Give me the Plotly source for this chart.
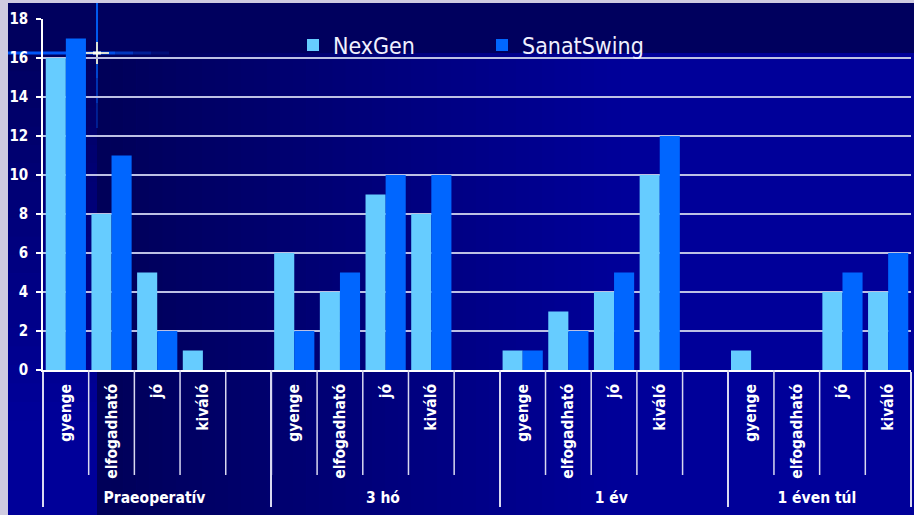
import plotly.graph_objects as go

# ---------------- data ----------------
groups = ["Praeoperatív", "3 hó", "1 év", "1 éven túl"]
ratings = ["gyenge", "elfogadható", "jó", "kiváló"]
nexgen = [[16, 8, 5, 1], [6, 4, 9, 8], [1, 3, 4, 10], [1, 0, 4, 4]]
sanatswing = [[17, 11, 2, 0], [2, 5, 10, 10], [1, 2, 5, 12], [0, 0, 5, 6]]
y_ticks = [0, 2, 4, 6, 8, 10, 12, 14, 16, 18]

# ---------------- layout constants ----------------
W, H = 914, 515
ML, MR, MT, MB = 43, 3, 19, 145
PW, PH = W - ML - MR, H - MT - MB
FONT = "DejaVu Sans Condensed, DejaVu Sans"


def px(x):
    return (x - ML) / PW


def py(y):
    return (H - MB - y) / PH


# build multicategory x (empty spacer slot after each group except last)
xg, xs, yn, ys = [], [], [], []
for gi, g in enumerate(groups):
    for ri, r in enumerate(ratings):
        xg.append(g); xs.append(r)
        yn.append(nexgen[gi][ri]); ys.append(sanatswing[gi][ri])
    if gi < len(groups) - 1:
        xg.append(g); xs.append(" ")
        yn.append(None); ys.append(None)
nslots = len(xg)

fig = go.Figure()
fig.add_bar(x=[xg, xs], y=yn, name="NexGen", marker=dict(color="#66CCFF", line=dict(width=0)))
fig.add_bar(x=[xg, xs], y=ys, name="SanatSwing", marker=dict(color="#0066FF", line=dict(width=0)))

shapes = []


def rect(x0, y0, x1, y1, color):
    shapes.append(dict(type="rect", xref="paper", yref="paper", layer="below",
                       x0=px(x0), x1=px(x1), y0=py(y1), y1=py(y0),
                       fillcolor=color, line=dict(width=0)))


def lerp_col(a, b, t):
    t = max(0.0, min(1.0, t))
    return "rgb(0,0,%d)" % round(a + (b - a) * t)


# base background
rect(8, 3, W + 2, H + 2, "#000099")
# main region horizontal gradient
n = 40
x_start, x_end = 97, 620
for i in range(n):
    xa = x_start + (x_end - x_start) * i / n
    xb = x_start + (x_end - x_start) * (i + 1) / n + 0.6
    rect(xa, 53, xb, H + 2, lerp_col(88, 153, (i + 0.5) / n))
# left strip vertical gradient
m = 20
for i in range(m):
    ya = 53 + (420 - 53) * i / m
    yb = 53 + (420 - 53) * (i + 1) / m + 0.6
    rect(8, ya, 97, yb, lerp_col(96, 153, (i + 0.5) / m))
# top band
rect(8, 3, W + 2, 53, "#00005E")


# glow lines / star
def seg(x0, y0, x1, y1, color, w):
    shapes.append(dict(type="line", xref="paper", yref="paper", layer="below",
                       x0=px(x0), x1=px(x1), y0=py(y0), y1=py(y1),
                       line=dict(color=color, width=w)))


seg(8, 53, 97, 53, "rgba(0,90,255,0.95)", 3)
for k, a in enumerate([0.85, 0.6, 0.35, 0.15]):
    seg(97 + k * 18, 53, 97 + (k + 1) * 18, 53, "rgba(0,90,255,%.2f)" % a, 3)
for k, a in enumerate([0.9, 0.9, 0.7, 0.5, 0.3]):
    seg(97, 3 + k * 25, 97, 3 + (k + 1) * 25, "rgba(0,100,255,%.2f)" % a, 2)
seg(85, 53, 109, 53, "rgba(255,250,210,0.85)", 2)
seg(97, 42, 97, 64, "rgba(255,250,210,0.85)", 2)
seg(93, 53, 101, 53, "rgba(255,255,240,1)", 3)

# sub-category boundary lines below axis
for k in range(1, nslots):
    xf = k / nslots
    shapes.append(dict(type="line", xref="paper", yref="paper", layer="above",
                       x0=xf, x1=xf, y0=0, y1=-105 / PH,
                       line=dict(color="#D8D8F0", width=1.5)))

fig.update_layout(
    width=W, height=H,
    margin=dict(l=ML, r=MR, t=MT, b=MB, pad=0),
    paper_bgcolor="#CFCBE0",
    plot_bgcolor="rgba(0,0,0,0)",
    barmode="group", bargap=0.12, bargroupgap=0,
    shapes=shapes,
    showlegend=True,
    legend=dict(orientation="h", x=px(293), xanchor="left", y=py(45), yanchor="middle",
                bgcolor="rgba(0,0,0,0)", font=dict(family=FONT, size=23, color="#F0F0FF"),
                entrywidth=144, itemsizing="constant"),
    xaxis=dict(type="multicategory", showline=True, linecolor="white", linewidth=1.5,
               ticks="", tickangle=-90, showgrid=False, automargin=False,
               tickfont=dict(family=FONT, size=15.5, color="white", weight="bold"),
               showdividers=True, dividercolor="#D8D8F0", dividerwidth=1.5,
               ticklabelstandoff=6),
    yaxis=dict(range=[0, 18], tickvals=y_ticks, showline=True, linecolor="white", linewidth=1.5,
               ticks="outside", ticklen=5, tickcolor="white", tickwidth=1.5,
               showgrid=True, gridcolor="#BCC0E4", gridwidth=2, zeroline=False,
               automargin=False, ticklabelstandoff=5,
               tickfont=dict(family=FONT, size=15, color="white", weight="bold")),
)

fig.write_html("out.html")
